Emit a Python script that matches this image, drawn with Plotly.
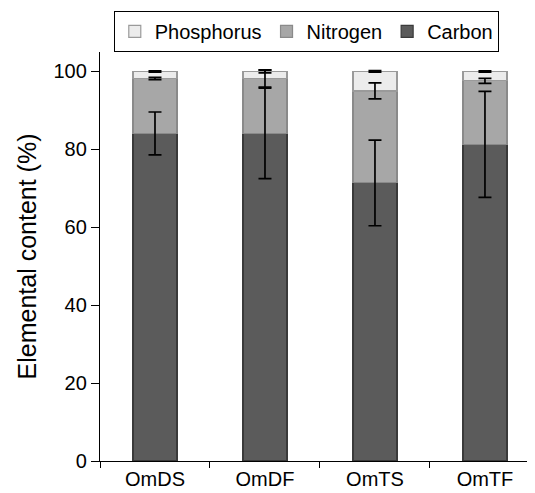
import plotly.graph_objects as go

categories = ["OmDS", "OmDF", "OmTS", "OmTF"]
carbon = [84.1, 84.1, 71.4, 81.3]
carbon_err = [5.5, 11.6, 11.0, 13.6]
nitrogen = [14.1, 14.1, 23.6, 16.3]
nitrogen_err = [0.3, 2.2, 2.05, 0.65]
phosphorus = [1.8, 1.8, 5.0, 2.4]
phosphorus_err = [0.15, 0.35, 0.2, 0.15]

font_family = "Liberation Sans, Arial, sans-serif"

fig = go.Figure()

series = [
    ("Carbon", carbon, carbon_err, "#5b5b5b", "#3a3a3a"),
    ("Nitrogen", nitrogen, nitrogen_err, "#a7a7a7", "#8a8a8a"),
    ("Phosphorus", phosphorus, phosphorus_err, "#ececec", "#9a9a9a"),
]

for name, vals, errs, fill, line in series:
    fig.add_trace(go.Bar(
        x=categories, y=vals, name=name, width=0.4,
        marker=dict(color=fill, line=dict(color=line, width=1.2)),
    ))

# error bars drawn on top of all stacked segments, at each segment's top
cum = [0.0] * len(categories)
for name, vals, errs, fill, line in series:
    cum = [c + v for c, v in zip(cum, vals)]
    fig.add_trace(go.Scatter(
        x=categories, y=cum, mode="markers", marker=dict(size=0.1, opacity=0),
        showlegend=False, hoverinfo="skip",
        error_y=dict(type="data", array=errs, visible=True,
                     color="black", thickness=1.7, width=6.5),
    ))

fig.update_layout(
    width=527, height=485,
    barmode="stack",
    plot_bgcolor="white", paper_bgcolor="white",
    margin=dict(l=92, r=0, t=44, b=32, autoexpand=False),
    font=dict(family=font_family, size=20, color="black"),
    legend=dict(orientation="h", traceorder="reversed",
                xref="container", yref="container",
                x=0.566, xanchor="center", y=0.994, yanchor="top",
                bordercolor="black", borderwidth=1,
                font=dict(size=20)),
    xaxis=dict(range=[-0.5, 3.455], showline=True, linecolor="black", linewidth=1.3,
               ticks="outside", tickson="boundaries", ticklen=6, tickcolor="black",
               tickwidth=1.3, showgrid=False, zeroline=False, automargin=False),
    yaxis=dict(range=[0, 105], showline=True, linecolor="black", linewidth=1.3,
               ticks="outside", ticklen=8, tickcolor="black", tickwidth=1.3,
               tickvals=[0, 20, 40, 60, 80, 100], showgrid=False, zeroline=False,
               automargin=False,
               title=dict(text="Elemental content (%)", font=dict(size=25), standoff=9)),
)

fig.write_html("out.html")
